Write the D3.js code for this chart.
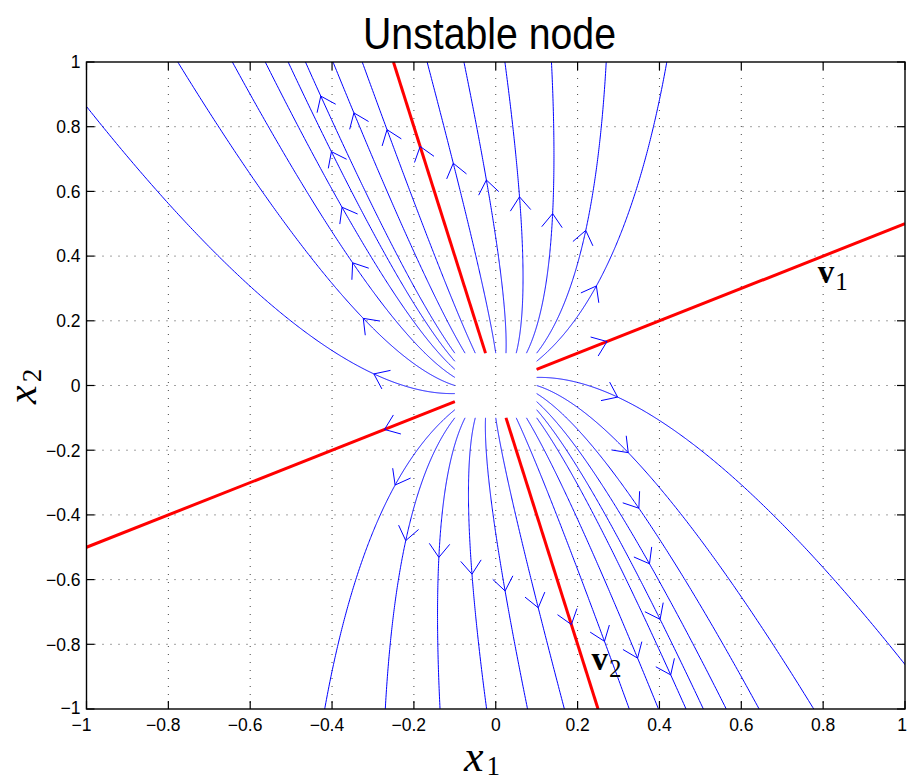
<!DOCTYPE html>
<html>
<head>
<meta charset="utf-8">
<script src="https://cdn.jsdelivr.net/npm/d3@7"></script>
<style>
  html, body { margin: 0; padding: 0; background: #fff; }
  svg { display: block; }
</style>
</head>
<body>
<svg id="chart" width="908" height="781"></svg>
<script>
// ---------------- data ----------------
const titleText = "Unstable node";
const xTickValues = [-1, -0.8, -0.6, -0.4, -0.2, 0, 0.2, 0.4, 0.6, 0.8, 1];
const xTickLabels = ["-1", "-0.8", "-0.6", "-0.4", "-0.2", "0", "0.2", "0.4", "0.6", "0.8", "1"];
const yTickValues = [-1, -0.8, -0.6, -0.4, -0.2, 0, 0.2, 0.4, 0.6, 0.8, 1];
const yTickLabels = ["-1", "-0.8", "-0.6", "-0.4", "-0.2", "0", "0.2", "0.4", "0.6", "0.8", "1"];

// linear system: eigenvalues and eigenvectors
const eigenValues = [1, 2];
const eigenVector1 = [1, 0.5];
const eigenVector2 = [-0.25, 1];

// initial conditions (on the square |x1|,|x2| = 0.1)
const startX1 = [-0.1, -0.075, -0.05, -0.025, 0, 0.025, 0.05, 0.075, 0.1,
                 0.1, 0.1, 0.1, 0.1, 0.1, 0.1, 0.1, 0.1,
                 0.075, 0.05, 0.025, 0, -0.025, -0.05, -0.075, -0.1,
                 -0.1, -0.1, -0.1, -0.1, -0.1, -0.1, -0.1];
const startX2 = [0.1, 0.1, 0.1, 0.1, 0.1, 0.1, 0.1, 0.1, 0.1,
                 0.075, 0.05, 0.025, 0, -0.025, -0.05, -0.075, -0.1,
                 -0.1, -0.1, -0.1, -0.1, -0.1, -0.1, -0.1, -0.1,
                 -0.075, -0.05, -0.025, 0, 0.025, 0.05, 0.075];
const arrowTime = 1;

// eigen-direction lines (red)
const eigLineFrom = [[0.1, 0.05], [-0.1, -0.05], [-0.025, 0.1], [0.025, -0.1]];
const eigLineTo   = [[1, 0.5], [-1, -0.5], [-0.25, 1], [0.25, -1]];
const eigLabels = [
  { name: "v", sub: "1", at: [0.787, 0.317] },
  { name: "v", sub: "2", at: [0.234, -0.879] }
];

// ---------------- layout ----------------
const svg = d3.select("#chart");
const pL = 86.5, pR = 905, pT = 62, pB = 709;
const x = d3.scaleLinear().domain([-1, 1]).range([pL, pR]);
const y = d3.scaleLinear().domain([-1, 1]).range([pB, pT]);

svg.append("defs").append("clipPath").attr("id", "plotclip")
  .append("rect").attr("x", pL).attr("y", pT)
  .attr("width", pR - pL).attr("height", pB - pT);

// grid
const grid = svg.append("g");
xTickValues.slice(1, -1).forEach(v => {
  grid.append("line").attr("x1", x(v)).attr("x2", x(v)).attr("y1", pT).attr("y2", pB)
    .attr("stroke", "#444").attr("stroke-width", 1).attr("stroke-dasharray", "1,7");
});
yTickValues.slice(1, -1).forEach(v => {
  grid.append("line").attr("x1", pL).attr("x2", pR).attr("y1", y(v)).attr("y2", y(v))
    .attr("stroke", "#444").attr("stroke-width", 1).attr("stroke-dasharray", "1,7");
});

// trajectories
const l1 = eigenValues[0], l2 = eigenValues[1];
const [p1, q1] = eigenVector1, [p2, q2] = eigenVector2;
const det = p1 * q2 - p2 * q1;
function coeffs(px, py) {
  return [(px * q2 - p2 * py) / det, (p1 * py - q1 * px) / det];
}
function stateAt(a0, b0, t) {
  const a = a0 * Math.exp(l1 * t), b = b0 * Math.exp(l2 * t);
  return [a * p1 + b * p2, a * q1 + b * q2];
}
function velAt(a0, b0, t) {
  const a = a0 * Math.exp(l1 * t), b = b0 * Math.exp(l2 * t);
  return [l1 * a * p1 + l2 * b * p2, l1 * a * q1 + l2 * b * q2];
}
const line = d3.line().x(d => x(d[0])).y(d => y(d[1]));
const trajG = svg.append("g").attr("clip-path", "url(#plotclip)");
const arrows = [];
startX1.forEach((sx, i) => {
  const sy = startX2[i];
  const [a0, b0] = coeffs(sx, sy);
  const pts = [];
  for (let t = 0; t < 12; t += 0.005) {
    const p = stateAt(a0, b0, t);
    pts.push(p);
    if (Math.abs(p[0]) > 1.1 || Math.abs(p[1]) > 1.1) break;
  }
  trajG.append("path").attr("d", line(pts)).attr("fill", "none")
    .attr("stroke", "#0000ff").attr("stroke-width", 1);
  const tip = stateAt(a0, b0, arrowTime);
  if (Math.abs(tip[0]) < 1 && Math.abs(tip[1]) < 1) {
    arrows.push({ tip, vel: velAt(a0, b0, arrowTime) });
  }
});

// red eigen lines
const redG = svg.append("g").attr("clip-path", "url(#plotclip)");
eigLineFrom.forEach((f, i) => {
  redG.append("path").attr("d", line([f, eigLineTo[i]]))
    .attr("stroke", "#ff0000").attr("stroke-width", 3).attr("fill", "none");
});

// arrowheads
const arrG = svg.append("g");
const wingLen = 17, wingAng = 37 * Math.PI / 180;
arrows.forEach(a => {
  const tx = x(a.tip[0]), ty = y(a.tip[1]);
  let dx = a.vel[0] * (x(1) - x(0)), dy = a.vel[1] * (y(1) - y(0));
  const n = Math.hypot(dx, dy); dx /= n; dy /= n;
  const bx = -dx, by = -dy;
  const w = s => {
    const c = Math.cos(s * wingAng), sn = Math.sin(s * wingAng);
    return [tx + wingLen * (bx * c - by * sn), ty + wingLen * (bx * sn + by * c)];
  };
  const w1 = w(1), w2 = w(-1);
  arrG.append("path").attr("d", `M${w1[0]},${w1[1]}L${tx},${ty}L${w2[0]},${w2[1]}`)
    .attr("fill", "none").attr("stroke", "#0000ff").attr("stroke-width", 1);
});

// frame and ticks
const axG = svg.append("g");
axG.append("rect").attr("x", pL).attr("y", pT).attr("width", pR - pL).attr("height", pB - pT)
  .attr("fill", "none").attr("stroke", "#000").attr("stroke-width", 1.4);
const tl = 8;
xTickValues.forEach(v => {
  axG.append("line").attr("x1", x(v)).attr("x2", x(v)).attr("y1", pB).attr("y2", pB - tl)
    .attr("stroke", "#000").attr("stroke-width", 1.2);
  axG.append("line").attr("x1", x(v)).attr("x2", x(v)).attr("y1", pT).attr("y2", pT + tl)
    .attr("stroke", "#000").attr("stroke-width", 1.2);
});
yTickValues.forEach(v => {
  axG.append("line").attr("x1", pL).attr("x2", pL + tl).attr("y1", y(v)).attr("y2", y(v))
    .attr("stroke", "#000").attr("stroke-width", 1.2);
  axG.append("line").attr("x1", pR).attr("x2", pR - tl).attr("y1", y(v)).attr("y2", y(v))
    .attr("stroke", "#000").attr("stroke-width", 1.2);
});

const tickFont = "'Liberation Sans', Arial, sans-serif";
const tickSize = 17.5;
// x tick labels: numeric part centred on the tick, minus hangs to the left
xTickValues.forEach((v, i) => {
  const lab = xTickLabels[i];
  const neg = lab.startsWith("-");
  const body = neg ? lab.slice(1) : lab;
  const t = axG.append("text").attr("x", Math.min(x(v), 902)).attr("y", 731)
    .attr("text-anchor", "middle").attr("font-family", tickFont).attr("font-size", tickSize)
    .attr("fill", "#000").text(body);
  if (neg) {
    const w = t.node().getComputedTextLength();
    axG.append("text").attr("x", x(v) - w / 2).attr("y", 731)
      .attr("text-anchor", "end").attr("font-family", tickFont).attr("font-size", tickSize)
      .attr("fill", "#000").text("\u2212");
  }
});
yTickValues.forEach((v, i) => {
  const lab = yTickLabels[i].replace("-", "\u2212");
  axG.append("text").attr("x", 80.5).attr("y", y(v) + 6.3 - (v === -1 ? 1.5 : 0))
    .attr("text-anchor", "end").attr("font-family", tickFont).attr("font-size", tickSize)
    .attr("fill", "#000").text(lab);
});

// title
svg.append("text").attr("x", 489.5).attr("y", 49)
  .attr("text-anchor", "middle").attr("font-family", tickFont).attr("font-size", 45)
  .attr("textLength", 253).attr("lengthAdjust", "spacingAndGlyphs")
  .attr("fill", "#000").text(titleText);

// axis labels
const mathFont = "'Liberation Serif', 'Times New Roman', serif";
const xl = svg.append("text").attr("x", 464).attr("y", 771)
  .attr("font-family", mathFont).attr("font-size", 44).attr("fill", "#000");
xl.append("tspan").attr("font-style", "italic").text("x");
xl.append("tspan").attr("font-size", 27).attr("dy", 4).attr("dx", 3).text("1");

const yl = svg.append("text").attr("transform", "translate(36,404) rotate(-90)")
  .attr("font-family", mathFont).attr("font-size", 42).attr("fill", "#000");
yl.append("tspan").attr("font-style", "italic").text("x");
yl.append("tspan").attr("font-size", 27).attr("dy", 5).attr("dx", 3).text("2");

// eigenvector labels
eigLabels.forEach(e => {
  const t = svg.append("text").attr("x", x(e.at[0])).attr("y", y(e.at[1]))
    .attr("font-family", mathFont).attr("font-size", 33).attr("fill", "#000");
  t.append("tspan").attr("font-weight", "bold").text(e.name);
  t.append("tspan").attr("font-size", 25).attr("dy", 7).attr("dx", 1).text(e.sub);
});
</script>
</body>
</html>
